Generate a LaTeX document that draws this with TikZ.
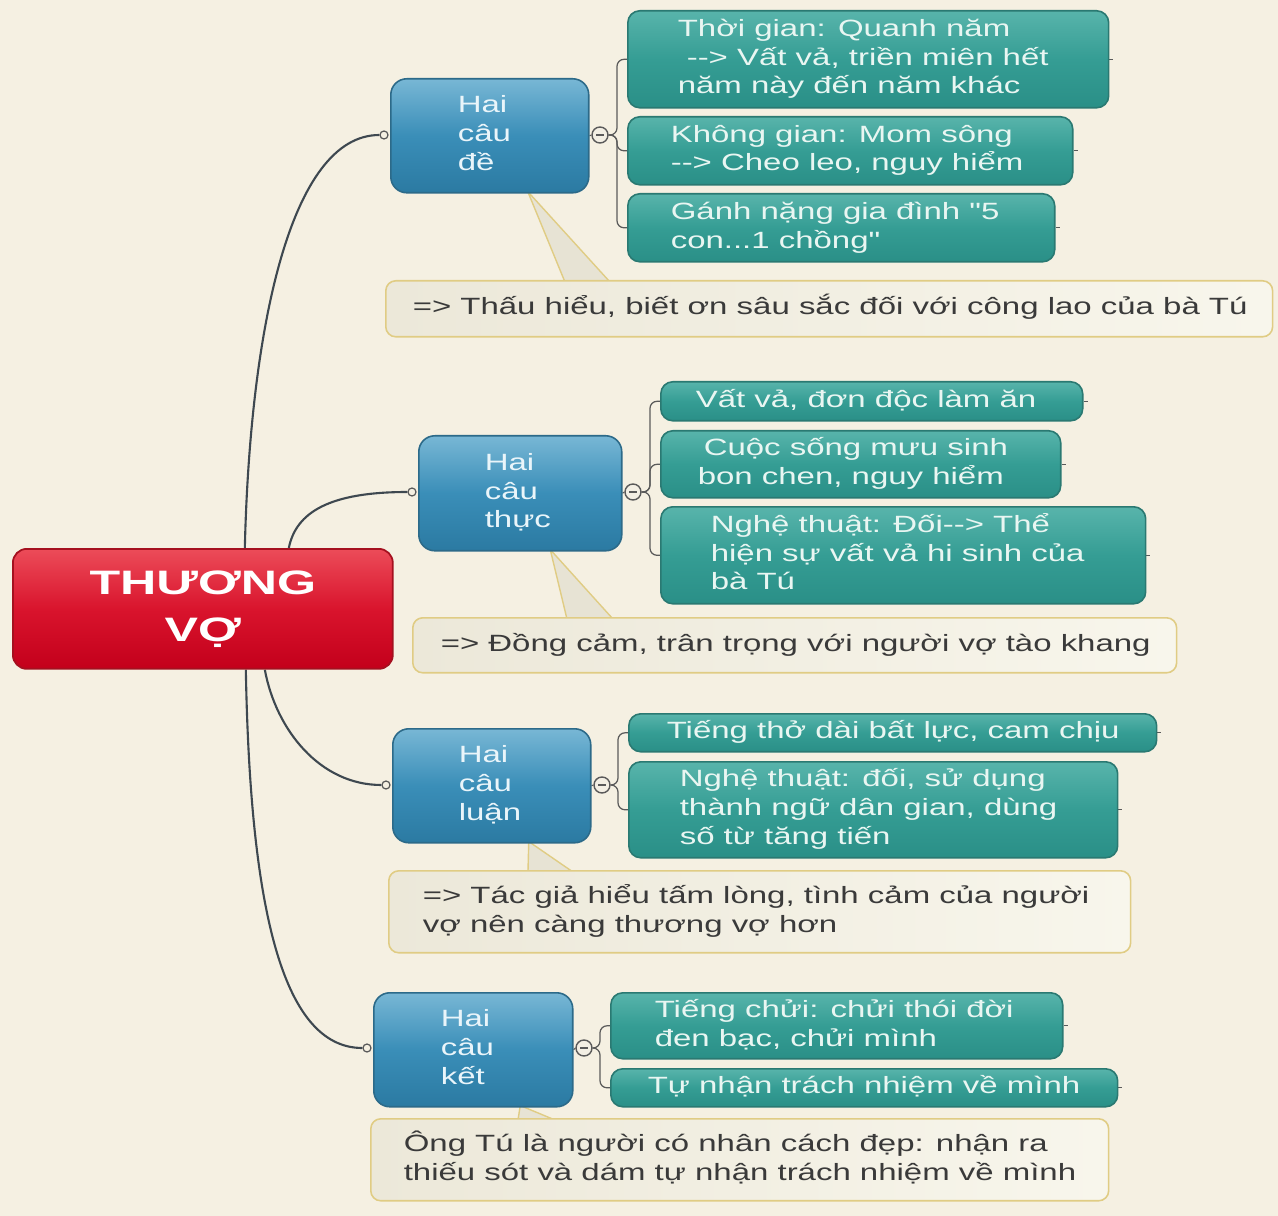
\documentclass[tikz,border=0pt]{standalone}
\usepackage{fontspec}
\newfontfamily\mf{Liberation Sans}[FakeStretch=1.4]
\newfontfamily\rootfont{Liberation Sans}[FakeStretch=1.48]
\usetikzlibrary{calc}
\pgfdeclarelayer{bg}\pgfdeclarelayer{mid}\pgfsetlayers{bg,mid,main}
\definecolor{bgc}{HTML}{F5F0E2}
\definecolor{rootT}{HTML}{EC4C59}
\definecolor{rootM}{HTML}{D9142D}
\definecolor{rootB}{HTML}{C3001B}
\definecolor{rootD}{HTML}{A5101F}
\definecolor{blueT}{HTML}{78B7D5}
\definecolor{blueM}{HTML}{3A8EB8}
\definecolor{blueB}{HTML}{2B7AA2}
\definecolor{blueD}{HTML}{2C6A89}
\definecolor{blueTx}{HTML}{EAF5FA}
\definecolor{tealT}{HTML}{58B4AB}
\definecolor{tealM}{HTML}{359D94}
\definecolor{tealB}{HTML}{2A8F87}
\definecolor{tealD}{HTML}{2A7972}
\definecolor{tealTx}{HTML}{E9F6F2}
\definecolor{noteL}{HTML}{ECE8D9}
\definecolor{noteR}{HTML}{F8F6EC}
\definecolor{noteD}{HTML}{E0CC84}
\definecolor{noteTx}{HTML}{3A3A3A}
\definecolor{ptrF}{HTML}{E7E3D4}
\definecolor{connC}{HTML}{3E4850}
\definecolor{brkC}{HTML}{5A5A5A}
\definecolor{colF}{HTML}{F3EFE4}
\newcommand\bt[3]{\makebox[#1][l]{\hspace*{#2}\begin{tabular}{@{}l@{}}#3\end{tabular}}}
\newcommand\mainsize{\mf\fontsize{13.4pt}{16.44pt}\selectfont}
\begin{document}
\begin{tikzpicture}[x=0.02cm,y=-0.02cm,
  rootbox/.style={draw=rootD, line width=1pt, rounded corners=0.28cm,
    top color=rootT, bottom color=rootB, middle color=rootM,
    text=white, font=\rootfont\bfseries\fontsize{19.3pt}{26.6pt}\selectfont,
    align=center, inner sep=0pt, anchor=north west},
  bluebox/.style={draw=blueD, line width=0.9pt, rounded corners=0.32cm,
    top color=blueT, bottom color=blueB, middle color=blueM,
    text=blueTx, font=\mainsize, inner sep=0pt, anchor=north west},
  tealbox/.style={draw=tealD, line width=0.9pt, rounded corners=0.24cm,
    top color=tealT, bottom color=tealB, middle color=tealM,
    text=tealTx, font=\mainsize, inner sep=0pt, anchor=north west},
  notebox/.style={draw=noteD, line width=0.9pt, rounded corners=0.2cm,
    left color=noteL, right color=noteR,
    text=noteTx, font=\mainsize, inner sep=0pt, anchor=north west},
  inc/.style={circle, draw=brkC, fill=bgc, line width=0.7pt, inner sep=0pt, minimum size=0.16cm},
  colc/.style={circle, draw=brkC, fill=colF, line width=0.8pt, inner sep=0pt, minimum size=0.32cm,
    path picture={\draw[brkC, line width=0.9pt] ([xshift=-0.08cm]path picture bounding box.center) -- ([xshift=0.08cm]path picture bounding box.center);}},
  conn/.style={draw=connC, line width=1.2pt},
  brk/.style={draw=brkC, line width=0.7pt, rounded corners=0.14cm},
  ptr/.style={fill=ptrF, draw=noteD, line width=0.8pt, line join=round},
  stub/.style={draw=brkC, line width=0.6pt}
]
\useasboundingbox (0,0) rectangle (1278,1216);
\begin{pgfonlayer}{bg}
  \fill[bgc] (0,0) rectangle (1278,1216);
\end{pgfonlayer}

% root
\node[rootbox, minimum width=7.6cm, minimum height=2.4cm] (root) at (12,548) {THƯƠNG\\VỢ};

% branches
\node[bluebox, minimum height=2.28cm] (b1) at (390,78) {\bt{3.96cm}{1.34cm}{Hai\\câu\\đề}};
\node[bluebox, minimum height=2.30cm] (b2) at (418,435) {\bt{4.06cm}{1.32cm}{Hai\\câu\\thực}};
\node[bluebox, minimum height=2.28cm] (b3) at (392,728) {\bt{3.96cm}{1.32cm}{Hai\\câu\\luận}};
\node[bluebox, minimum height=2.28cm] (b4) at (373,992) {\bt{3.98cm}{1.34cm}{Hai\\câu\\kết}};

% children
\node[tealbox, minimum height=1.94cm] (c1a) at (627,10) {\bt{9.62cm}{1.0cm}{Thời gian: Quanh năm\\\hspace*{0.18cm}--> Vất vả, triền miên hết\\năm này đến năm khác}};
\node[tealbox, minimum height=1.36cm] (c1b) at (627,116) {\bt{8.90cm}{0.86cm}{Không gian: Mom sông\\--> Cheo leo, nguy hiểm}};
\node[tealbox, minimum height=1.36cm] (c1c) at (627,193) {\bt{8.54cm}{0.86cm}{Gánh nặng gia đình "5\\con...1 chồng"}};
\node[tealbox, minimum height=0.78cm] (c2a) at (660,381) {\bt{8.44cm}{0.70cm}{Vất vả, đơn độc làm ăn}};
\node[tealbox, minimum height=1.34cm] (c2b) at (660,430) {\bt{8.00cm}{0.74cm}{\hspace*{0.12cm}Cuộc sống mưu sinh\\bon chen, nguy hiểm}};
\node[tealbox, minimum height=1.94cm] (c2c) at (660,506) {\bt{9.70cm}{1.0cm}{Nghệ thuật: Đối--> Thể\\hiện sự vất vả hi sinh của\\bà Tú}};
\node[tealbox, minimum height=0.76cm] (c3a) at (628,713) {\bt{10.56cm}{0.76cm}{Tiếng thở dài bất lực, cam chịu}};
\node[tealbox, minimum height=1.92cm] (c3b) at (628,761) {\bt{9.78cm}{1.02cm}{Nghệ thuật: đối, sử dụng\\thành ngữ dân gian, dùng\\số từ tăng tiến}};
\node[tealbox, minimum height=1.32cm] (c4a) at (610,992) {\bt{9.04cm}{0.88cm}{Tiếng chửi: chửi thói đời\\đen bạc, chửi mình}};
\node[tealbox, minimum height=0.76cm] (c4b) at (610,1068) {\bt{10.14cm}{0.74cm}{Tự nhận trách nhiệm về mình}};

% callouts
\node[notebox, minimum height=1.12cm] (n1) at (385,280) {\bt{17.74cm}{0.54cm}{=> Thấu hiểu, biết ơn sâu sắc đối với công lao của bà Tú}};
\node[notebox, minimum height=1.10cm] (n2) at (412,617) {\bt{15.28cm}{0.56cm}{=> Đồng cảm, trân trọng với người vợ tào khang}};
\node[notebox, minimum height=1.64cm] (n3) at (388,870) {\bt{14.84cm}{0.68cm}{=> Tác giả hiểu tấm lòng, tình cảm của người\\vợ nên càng thương vợ hơn}};
\node[notebox, minimum height=1.64cm] (n4) at (370,1118) {\bt{14.76cm}{0.66cm}{Ông Tú là người có nhân cách đẹp: nhận ra\\thiếu sót và dám tự nhận trách nhiệm về mình}};

% small circles
\node[inc] (i1) at (384,135) {};
\node[inc] (i2) at (412,492) {};
\node[inc] (i3) at (386,785) {};
\node[inc] (i4) at (367,1048) {};
\node[colc] (k1) at (600,135) {};
\node[colc] (k2) at (633,492) {};
\node[colc] (k3) at (602,785) {};
\node[colc] (k4) at (584,1048) {};

\begin{pgfonlayer}{mid}
  % root connectors
  \draw[conn] ([xshift=0.84cm]root.north) .. controls (250,330) and (290,135) .. (i1.west);
  \draw[conn] ([xshift=1.72cm]root.north) .. controls (296,512) and (330,492) .. (i2.west);
  \draw[conn] ([xshift=1.24cm]root.south) .. controls (276,730) and (320,785) .. (i3.west);
  \draw[conn] ([xshift=0.86cm]root.south) .. controls (250,900) and (280,1048) .. (i4.west);
  % node to collapse circle
  \draw[stub] (b1.east) -- (k1.west);
  \draw[stub] (b2.east) -- (k2.west);
  \draw[stub] (b3.east) -- (k3.west);
  \draw[stub] (b4.east) -- (k4.west);
  % brackets
  \draw[brk] (k1.east) -| ([xshift=-0.2cm]c1a.west) -- (c1a.west);
  \draw[brk] (k1.east) -| ([xshift=-0.2cm]c1b.west) -- (c1b.west);
  \draw[brk] (k1.east) -| ([xshift=-0.2cm]c1c.west) -- (c1c.west);
  \draw[brk] (k2.east) -| ([xshift=-0.2cm]c2a.west) -- (c2a.west);
  \draw[brk] (k2.east) -| ([xshift=-0.2cm]c2b.west) -- (c2b.west);
  \draw[brk] (k2.east) -| ([xshift=-0.2cm]c2c.west) -- (c2c.west);
  \draw[brk] (k3.east) -| ([xshift=-0.2cm]c3a.west) -- (c3a.west);
  \draw[brk] (k3.east) -| ([xshift=-0.2cm]c3b.west) -- (c3b.west);
  \draw[brk] (k4.east) -| ([xshift=-0.2cm]c4a.west) -- (c4a.west);
  \draw[brk] (k4.east) -| ([xshift=-0.2cm]c4b.west) -- (c4b.west);
  % right stubs
  \foreach \c in {c1a,c1b,c1c,c2a,c2b,c2c,c3a,c3b,c4a,c4b}
    \draw[stub] (\c.east) -- ++(4,0);
  % callout pointers
  \draw[ptr] ([xshift=0.76cm,yshift=0.04cm]b1.south) -- ([xshift=3.6cm,yshift=-0.04cm]n1.north west) -- ([xshift=4.5cm,yshift=-0.04cm]n1.north west) -- cycle;
  \draw[ptr] ([xshift=0.60cm,yshift=0.04cm]b2.south) -- ([xshift=3.1cm,yshift=-0.04cm]n2.north west) -- ([xshift=4.02cm,yshift=-0.04cm]n2.north west) -- cycle;
  \draw[ptr] ([xshift=0.74cm,yshift=0.04cm]b3.south) -- ([xshift=2.8cm,yshift=-0.04cm]n3.north west) -- ([xshift=3.7cm,yshift=-0.04cm]n3.north west) -- cycle;
  \draw[ptr] ([xshift=0.94cm,yshift=0.04cm]b4.south) -- ([xshift=2.96cm,yshift=-0.04cm]n4.north west) -- ([xshift=3.7cm,yshift=-0.04cm]n4.north west) -- cycle;
\end{pgfonlayer}
\end{tikzpicture}
\end{document}
